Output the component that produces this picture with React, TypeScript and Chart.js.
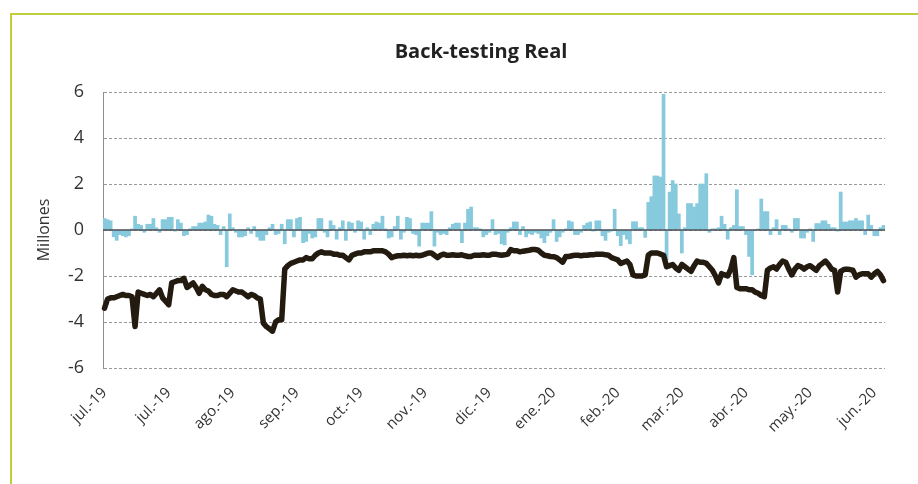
import React, { useEffect, useRef } from "react";
import { Chart, registerables } from "chart.js";

Chart.register(...registerables);

// Daily real P&L (millones) – bars
const pnl: number[] = [
  0.5, 0.45, 0.4, -0.3, -0.45, -0.2, -0.25, -0.3, -0.25, 0.05,
  0.6, 0.25, 0.2, -0.1, 0.25, 0.25, 0.5, 0.1, -0.1, 0.45,
  0.45, 0.55, 0.55, -0.05, 0.45, 0.3, -0.25, -0.2, 0.05, 0.15,
  0.15, 0.3, 0.3, 0.35, 0.65, 0.6, 0.25, 0.2, -0.2, 0.15,
  -1.6, 0.7, 0.1, -0.1, -0.3, -0.3, -0.25, 0.1, -0.15, 0.15,
  -0.3, -0.45, -0.45, -0.2, 0.1, 0.25, -0.2, -0.15, 0.25, -0.6,
  0.45, 0.45, -0.3, 0.5, 0.55, -0.55, -0.5, -0.15, -0.35, -0.3,
  0.5, 0.5, -0.1, -0.3, 0.4, 0.2, -0.4, 0.1, 0.4, -0.45,
  0.35, 0.3, -0.1, 0.4, 0.35, -0.4, 0.1, -0.2, 0.25, 0.35,
  0.3, 0.6, 0.05, -0.35, -0.3, 0.15, 0.6, -0.4, -0.1, 0.55,
  0.5, -0.15, -0.2, -0.7, 0.3, 0.3, 0.3, 0.8, -0.7, -0.1,
  -0.2, -0.15, -0.2, 0.1, 0.25, 0.3, 0.3, -0.55, 0.3, 0.9,
  1.0, 0.1, 0.1, 0.05, -0.3, -0.2, -0.1, 0.45, -0.2, -0.15,
  -0.6, -0.65, -0.1, 0.1, 0.35, 0.35, -0.2, 0.15, -0.3, -0.15,
  -0.2, -0.1, -0.15, -0.35, -0.55, -0.25, -0.1, 0.45, -0.5, -0.3,
  -0.1, 0.05, 0.4, 0.35, -0.2, -0.2, -0.1, 0.2, 0.3, 0.35,
  -0.05, 0.4, 0.4, -0.25, -0.45, -0.1, -0.05, 0.9, -0.25, -0.68,
  -0.2, -0.4, -0.6, 0.36, 0.36, 0.1, 0.1, -0.32, 1.2, 1.45,
  2.35, 2.35, 2.3, 5.9, -1.3, 1.65, 2.15, 2.0, 0.7, -1.0,
  0.1, 1.15, 1.15, 1.0, 1.15, 2.0, 2.0, 2.45, -0.1, 0.05,
  0.05, 0.1, 0.6, 0.25, -0.4, 0.1, 0.2, 1.75, 0.15, 0.15,
  -0.2, -1.15, -1.95, 0.0, 0.05, 1.35, 0.8, 0.8, -0.2, 0.1,
  0.45, -0.2, 0.2, 0.2, 0.05, -0.1, 0.5, 0.5, -0.35, -0.35,
  -0.1, 0.05, -0.5, 0.28, 0.28, 0.4, 0.4, 0.25, 0.1, 0.1,
  -0.05, 1.65, 0.35, 0.35, 0.4, 0.4, 0.5, 0.4, 0.4, -0.2,
  0.65, 0.2, -0.25, -0.25, 0.1, 0.2,
];

// VaR (millones) – black line
const varLine: number[] = [
  -3.4, -3.0, -2.95, -2.95, -2.9, -2.85, -2.8, -2.85, -2.85, -2.9,
  -4.2, -2.7, -2.75, -2.8, -2.85, -2.8, -2.9, -2.75, -2.6, -2.95,
  -3.1, -3.25, -2.3, -2.25, -2.2, -2.2, -2.1, -2.5, -2.4, -2.3,
  -2.5, -2.75, -2.45, -2.6, -2.65, -2.8, -2.85, -2.85, -2.8, -2.8,
  -2.9, -2.75, -2.6, -2.65, -2.7, -2.7, -2.8, -2.9, -2.8, -2.85,
  -2.95, -3.0, -4.05, -4.2, -4.3, -4.4, -4.0, -3.9, -3.9, -1.7,
  -1.55, -1.45, -1.4, -1.35, -1.3, -1.3, -1.2, -1.25, -1.25, -1.1,
  -1.0, -0.95, -1.0, -1.0, -1.0, -1.05, -1.05, -1.1, -1.1, -1.2,
  -1.3, -1.1, -1.05, -1.0, -1.0, -0.95, -0.95, -0.95, -0.9, -0.9,
  -0.9, -0.9, -0.95, -1.05, -1.2, -1.15, -1.12, -1.12, -1.1, -1.12,
  -1.1, -1.12, -1.1, -1.12, -1.1, -1.05, -1.0, -1.0, -1.1, -1.2,
  -1.1, -1.05, -1.1, -1.1, -1.08, -1.1, -1.1, -1.08, -1.12, -1.15,
  -1.15, -1.1, -1.1, -1.1, -1.08, -1.1, -1.1, -1.05, -1.05, -1.08,
  -1.1, -1.08, -1.05, -0.85, -0.9, -0.9, -0.95, -0.92, -0.9, -0.88,
  -0.85, -0.85, -0.88, -1.0, -1.1, -1.12, -1.15, -1.16, -1.2, -1.3,
  -1.4, -1.15, -1.15, -1.12, -1.1, -1.1, -1.12, -1.1, -1.1, -1.08,
  -1.08, -1.05, -1.05, -1.05, -1.08, -1.1, -1.2, -1.25, -1.3, -1.45,
  -1.4, -1.35, -1.5, -1.95, -2.0, -2.0, -2.0, -1.95, -1.1, -1.0,
  -1.0, -1.0, -1.05, -1.1, -1.6, -1.55, -1.5, -1.65, -1.75, -1.5,
  -1.6, -1.7, -1.8, -1.55, -1.35, -1.4, -1.4, -1.45, -1.6, -1.75,
  -2.0, -2.3, -1.9, -1.95, -2.0, -1.7, -1.2, -2.5, -2.55, -2.55,
  -2.55, -2.6, -2.6, -2.7, -2.75, -2.85, -2.9, -1.75, -1.65, -1.6,
  -1.7, -1.5, -1.35, -1.4, -1.7, -1.95, -1.7, -1.55, -1.6, -1.7,
  -1.6, -1.55, -1.65, -1.75, -1.55, -1.45, -1.35, -1.5, -1.7, -1.75,
  -2.7, -1.8, -1.72, -1.7, -1.72, -1.75, -2.05, -1.95, -1.9, -1.9,
  -1.9, -2.05, -1.9, -1.8, -1.95, -2.2,
];

// Month tick labels (one every 21 trading days)
const tickLabels: string[] = [
  "jul.-19", "jul.-19", "ago.-19", "sep.-19", "oct.-19", "nov.-19", "dic.-19",
  "ene.-20", "feb.-20", "mar.-20", "abr.-20", "may.-20", "jun.-20",
];
const tickEvery = 21;

const categories: string[] = pnl.map((_, i) => String(i));

const FONT = "'Open Sans', 'Noto Sans', sans-serif";

export default function App() {
  const ref = useRef<HTMLCanvasElement | null>(null);

  useEffect(() => {
    if (!ref.current) return;

    const overlay = {
      id: "overlay",
      afterDatasetsDraw(chart: any) {
        const { ctx, chartArea, scales } = chart;
        const y0 = scales.y.getPixelForValue(0);
        ctx.save();
        ctx.strokeStyle = "#4a4f55";
        ctx.lineWidth = 1.5;
        ctx.beginPath();
        ctx.moveTo(chartArea.left, y0);
        ctx.lineTo(chartArea.right, y0);
        ctx.stroke();
        ctx.restore();
      },
      afterDraw(chart: any) {
        const { ctx } = chart;
        ctx.save();
        ctx.fillStyle = "#222";
        ctx.font = `bold 20px ${FONT}`;
        ctx.textAlign = "center";
        ctx.textBaseline = "middle";
        ctx.fillText("Back-testing Real", 481, 52);
        ctx.restore();
      },
    };

    const chart = new Chart(ref.current, {
      type: "bar",
      data: {
        labels: categories,
        datasets: [
          {
            type: "line",
            label: "VaR",
            data: varLine,
            borderColor: "#231a10",
            borderWidth: 5.5,
            pointRadius: 0,
            tension: 0,
            order: 0,
            borderJoinStyle: "round",
            borderCapStyle: "round",
          } as any,
          {
            type: "bar",
            label: "Real",
            data: pnl,
            backgroundColor: "#88cadd",
            barPercentage: 1,
            categoryPercentage: 1,
            order: 1,
          },
        ],
      },
      options: {
        animation: false,
        responsive: false,
        maintainAspectRatio: false,
        layout: { padding: { left: 0, right: 33, top: 92, bottom: 0 } },
        plugins: {
          legend: { display: false },
          title: { display: false },
          tooltip: { enabled: false },
        },
        scales: {
          x: {
            grid: { display: false },
            border: { display: false },
            ticks: {
              autoSkip: false,
              maxRotation: 45,
              minRotation: 45,
              padding: 8,
              color: "#333",
              font: { family: FONT, size: 15 },
              callback: (_v: any, i: number) =>
                i % tickEvery === 0 ? tickLabels[i / tickEvery] : "",
            },
            afterFit: (s: any) => {
              s.height = 116;
            },
          },
          y: {
            min: -6,
            max: 6,
            ticks: {
              stepSize: 2,
              padding: 19,
              color: "#333",
              font: { family: FONT, size: 18 },
            },
            grid: {
              color: "#9a9a9a",
              lineWidth: 1,
              drawTicks: false,
            },
            border: { display: true, color: "#8f8f8f", width: 1, dash: [3, 2] },
            title: {
              display: true,
              text: "Millones",
              color: "#333",
              font: { family: FONT, size: 16 },
              padding: { top: 35, bottom: 0 },
            },
            afterFit: (s: any) => {
              s.width = 103;
            },
          },
        },
      },
      plugins: [overlay],
    });

    return () => chart.destroy();
  }, []);

  return (
    <div style={{ position: "absolute", left: 0, top: 0, width: 918, height: 484, background: "#fff" }}>
      <div
        style={{
          position: "absolute",
          left: 10,
          top: 13,
          right: 0,
          bottom: 0,
          borderTop: "2px solid #c0cd3c",
          borderLeft: "2px solid #c0cd3c",
        }}
      />
      <canvas
        ref={ref}
        width={918}
        height={484}
        style={{ position: "absolute", left: 0, top: 0, width: 918, height: 484 }}
      />
    </div>
  );
}
